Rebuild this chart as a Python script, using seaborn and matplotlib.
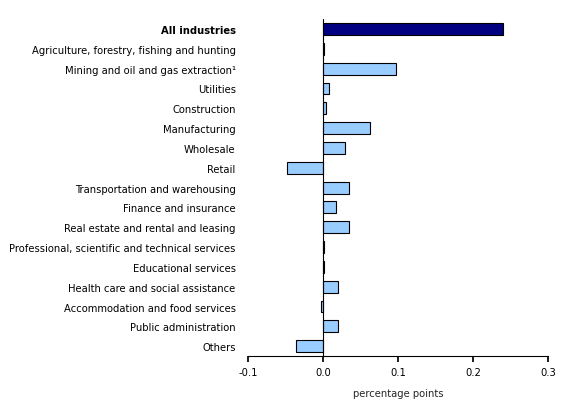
import matplotlib
matplotlib.use("Agg")
import matplotlib.pyplot as plt
import seaborn as sns
import pandas as pd

categories = ["All industries","Agriculture, forestry, fishing and hunting","Mining and oil and gas extraction¹",
 "Utilities","Construction","Manufacturing","Wholesale","Retail","Transportation and warehousing",
 "Finance and insurance","Real estate and rental and leasing","Professional, scientific and technical services",
 "Educational services","Health care and social assistance","Accommodation and food services",
 "Public administration","Others"]
values = [0.24,0.001,0.097,0.008,0.004,0.063,0.029,-0.048,0.035,0.017,0.035,0.001,0.001,0.02,-0.003,0.02,-0.036]

sns.set_theme(style="white")
plt.rcParams['font.family'] = ['DejaVu Sans']
plt.rcParams['text.color'] = 'black'
plt.rcParams['xtick.color'] = 'black'
plt.rcParams['ytick.color'] = 'black'
df = pd.DataFrame({"cat": categories, "val": values})
fig = plt.figure(figsize=(5.8, 4.1), dpi=100)
ax = fig.add_axes([0.428, 0.129, 0.517, 0.822])
colors = ["#000080"] + ["#99ccff"] * (len(categories) - 1)
sns.barplot(data=df, x="val", y="cat", hue="cat", palette=colors, legend=False, saturation=1,
            edgecolor="black", linewidth=0.8, width=0.6, ax=ax, orient="h")
ax.set_xlim(-0.1, 0.3)
ax.set_xticks([-0.1, 0, 0.1, 0.2, 0.3])
ax.set_xticklabels(["-0.1", "0.0", "0.1", "0.2", "0.3"])
ax.axvline(0, color="black", linewidth=0.8)
for s in ["top", "right", "left"]:
    ax.spines[s].set_visible(False)
ax.spines["bottom"].set_color("black")
ax.spines["bottom"].set_linewidth(0.8)
ax.tick_params(axis="x", bottom=True, length=4, labelsize=7.2, color="black")
ax.tick_params(axis="y", left=False, labelsize=7.2, pad=3)
ax.set_ylabel("")
ax.set_xlabel("percentage points", fontsize=7.2, labelpad=8)
for lbl in ax.get_yticklabels():
    if lbl.get_text() == "All industries":
        lbl.set_fontweight("bold")
fig.savefig("out.png", dpi=100)
